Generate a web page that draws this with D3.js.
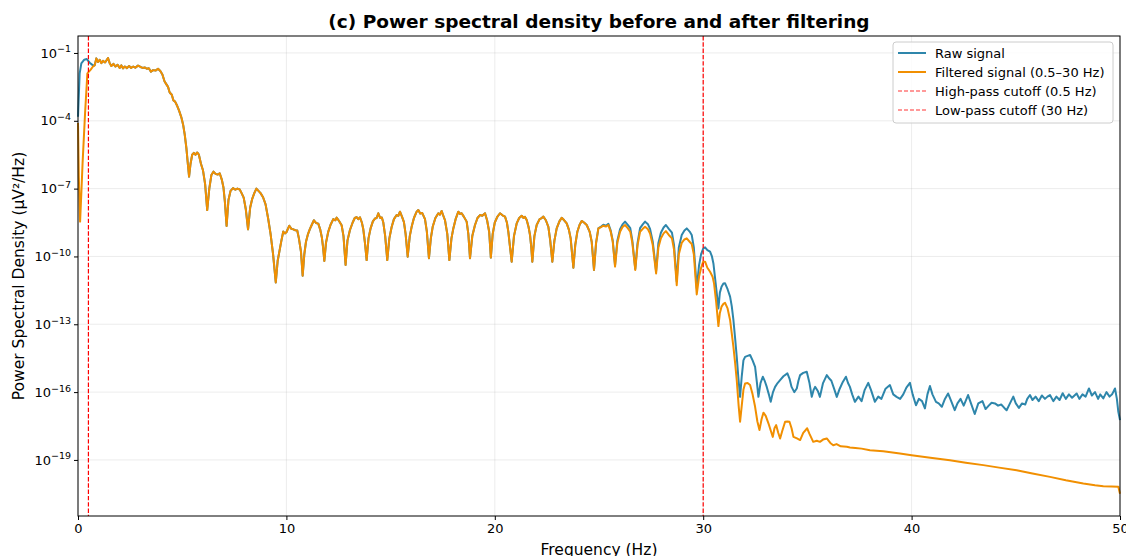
<!DOCTYPE html>
<html>
<head>
<meta charset="utf-8">
<script src="https://cdn.jsdelivr.net/npm/d3@7"></script>
<style>
  body { margin: 0; background: #fff; }
  text { font-family: "DejaVu Sans", sans-serif; fill: #000; }
</style>
</head>
<body>
<div id="chart"></div>
<script>
// values are [frequency (Hz), log10 of PSD]
var rawLowBand = [[0,-3.82],[0.08,-1.9],[0.16,-1.46],[0.3,-1.3],[0.42,-1.27],[0.56,-1.43],[0.72,-1.55]];
var filteredLowBand = [[0,-4.1],[0.04,-6.5],[0.1,-8.46],[0.16,-7.2],[0.22,-5.87],[0.34,-3.65],[0.45,-1.9],[0.6,-1.75],[0.72,-1.6]];

// both signals overlap here
var sharedBand = [[0.8,-1.55],[0.88,-1.24],[0.96,-1.4],[1.04,-1.3],[1.12,-1.45],[1.2,-1.35],[1.3,-1.42],[1.44,-1.22],[1.52,-1.45],[1.6,-1.58],
  [1.7,-1.48],[1.8,-1.6],[1.9,-1.52],[2.0,-1.66],[2.08,-1.55],[2.16,-1.68],[2.25,-1.6],[2.35,-1.67],[2.45,-1.58],[2.55,-1.66],[2.65,-1.6],
  [2.75,-1.65],[2.88,-1.56],[3.0,-1.62],[3.1,-1.66],[3.2,-1.64],[3.3,-1.7],[3.4,-1.68],[3.5,-1.83],[3.6,-1.76],[3.72,-1.78],[3.84,-1.7],
  [3.95,-1.8],[4.05,-1.95],[4.15,-2.25],[4.25,-2.4],[4.32,-2.5],[4.4,-2.75],[4.5,-2.85],[4.58,-3.1],[4.66,-3.15],[4.74,-3.3],[4.85,-3.55],
  [4.96,-3.85],[5.05,-4.2],[5.12,-4.6],[5.2,-5.2],[5.28,-6.0],[5.33,-6.47],[5.4,-5.9],[5.48,-5.5],[5.56,-5.42],[5.64,-5.5],[5.72,-5.4],
  [5.8,-5.5],[5.9,-5.9],[6.0,-6.2],[6.1,-6.8],[6.2,-7.95],[6.3,-7.0],[6.4,-6.4],[6.5,-6.25],[6.6,-6.35],[6.7,-6.38],[6.8,-6.32],[6.9,-6.6],
  [6.98,-6.95],[7.05,-7.6],[7.13,-8.65],[7.22,-7.5],[7.32,-7.1],[7.44,-6.98],[7.55,-7.05],[7.65,-7.0],[7.76,-7.04],[7.85,-7.2],[7.95,-7.4],
  [8.05,-7.9],[8.16,-8.8],[8.26,-7.85],[8.36,-7.45],[8.46,-7.2],[8.56,-7.0],[8.66,-7.1],[8.76,-7.2],[8.88,-7.38],[9.0,-7.7],[9.12,-8.3],
  [9.24,-9.0],[9.36,-9.9],[9.49,-11.15],[9.58,-10.2],[9.68,-9.7],[9.76,-9.3],[9.85,-8.9],[9.93,-8.98],[10.0,-8.93],[10.14,-8.64],[10.24,-8.78],
  [10.33,-8.8],[10.43,-8.84],[10.52,-8.85],[10.6,-9.2],[10.7,-9.8],[10.78,-10.85],[10.86,-9.9],[10.94,-9.35],[11.04,-9.0],[11.13,-8.78],
  [11.22,-8.6],[11.32,-8.4],[11.42,-8.52],[11.53,-8.55],[11.62,-8.8],[11.7,-9.15],[11.76,-9.6],[11.82,-10.2],[11.9,-9.4],[12.01,-8.9],
  [12.12,-8.6],[12.25,-8.35],[12.35,-8.4],[12.41,-8.28],[12.52,-8.42],[12.65,-8.62],[12.74,-9.1],[12.84,-10.38],[12.93,-9.3],[13.05,-8.83],
  [13.18,-8.5],[13.28,-8.3],[13.37,-8.26],[13.45,-8.35],[13.53,-8.27],[13.62,-8.5],[13.69,-8.8],[13.77,-9.4],[13.85,-10.16],[13.94,-9.2],
  [14.04,-8.76],[14.15,-8.45],[14.25,-8.32],[14.33,-8.3],[14.41,-8.09],[14.5,-8.3],[14.58,-8.28],[14.65,-8.5],[14.74,-9.1],[14.84,-10.16],
  [14.94,-9.2],[15.05,-8.7],[15.16,-8.35],[15.29,-8.17],[15.37,-8.2],[15.45,-8.02],[15.55,-8.25],[15.64,-8.48],[15.72,-9.0],[15.82,-10.01],
  [15.92,-9.1],[16.01,-8.69],[16.12,-8.3],[16.25,-8.02],[16.33,-7.95],[16.42,-8.1],[16.52,-8.08],[16.65,-8.35],[16.74,-8.9],[16.84,-10.08],
  [16.93,-9.2],[17.02,-8.69],[17.15,-8.3],[17.29,-8.09],[17.37,-8.15],[17.45,-7.99],[17.53,-8.2],[17.61,-8.4],[17.72,-9.0],[17.82,-10.16],
  [17.92,-9.2],[18.01,-8.76],[18.12,-8.35],[18.25,-8.02],[18.33,-8.12],[18.41,-8.09],[18.52,-8.25],[18.65,-8.46],[18.73,-9.0],[18.81,-10.08],
  [18.92,-9.1],[19.05,-8.61],[19.17,-8.3],[19.29,-8.17],[19.4,-8.2],[19.53,-8.09],[19.63,-8.4],[19.73,-8.91],[19.81,-10.05],[19.9,-9.0],
  [20.0,-8.5],[20.12,-8.25],[20.25,-8.09],[20.37,-8.18],[20.49,-8.24],[20.58,-8.5],[20.65,-8.91],[20.72,-9.5],[20.81,-10.23],[20.92,-9.1],
  [21.05,-8.54],[21.17,-8.3],[21.29,-8.2],[21.38,-8.3],[21.45,-8.25],[21.53,-8.39],[21.62,-8.7],[21.69,-9.05],[21.75,-9.6],[21.8,-10.23],
  [21.9,-9.1],[22.01,-8.61],[22.15,-8.35],[22.25,-8.3],[22.33,-8.24],[22.45,-8.4],[22.57,-8.69],[22.66,-9.3],[22.76,-10.23],[22.86,-9.3],
  [22.97,-8.76],[23.1,-8.45],[23.21,-8.29],[23.33,-8.4],[23.45,-8.54],[23.55,-8.8],[23.64,-9.2],[23.77,-10.5],[23.86,-9.5],[23.96,-8.91],
  [24.07,-8.6],[24.17,-8.43],[24.28,-8.5],[24.41,-8.61],[24.55,-8.9],[24.65,-9.35],[24.76,-10.6],[24.86,-9.4],[24.97,-8.76]];

var rawHighBand = [[25.1,-8.68],[25.21,-8.6],[25.33,-8.64],[25.45,-8.56],[25.56,-8.85],[25.66,-9.3],[25.77,-10.4],[25.88,-9.3],[26.01,-8.8],
  [26.13,-8.58],[26.25,-8.46],[26.38,-8.6],[26.5,-8.75],[26.6,-9.3],[26.74,-10.55],[26.85,-9.4],[26.97,-8.75],[27.1,-8.58],[27.21,-8.46],
  [27.35,-8.58],[27.45,-8.78],[27.58,-9.35],[27.74,-10.65],[27.85,-9.4],[27.97,-8.95],[28.1,-8.72],[28.21,-8.61],[28.35,-8.78],[28.5,-8.95],
  [28.6,-9.5],[28.73,-11.1],[28.83,-9.6],[28.97,-9.05],[29.1,-8.85],[29.21,-8.76],[29.35,-8.9],[29.45,-9.05],[29.55,-9.6],[29.69,-11.4],
  [29.8,-10.4],[29.9,-9.9],[30.0,-9.65],[30.09,-9.6],[30.2,-9.72],[30.33,-9.79],[30.42,-10.0],[30.49,-10.31],[30.6,-11.2],[30.73,-12.3],
  [30.8,-11.6],[30.88,-11.34],[30.97,-11.2],[31.05,-11.19],[31.17,-11.45],[31.29,-11.78],[31.37,-12.2],[31.45,-12.81],[31.53,-13.6],
  [31.61,-14.44],[31.69,-15.4],[31.77,-16.21],[31.85,-15.3],[31.93,-14.6],[32.01,-14.44],[32.13,-14.4],[32.25,-14.36],[32.37,-14.6],
  [32.49,-14.88],[32.58,-15.6],[32.65,-16.21],[32.75,-15.6],[32.86,-15.32],[32.95,-15.5],[33.05,-15.77],[33.15,-16.1],[33.24,-16.43],
  [33.35,-16.0],[33.45,-15.77],[33.57,-15.6],[33.69,-15.47],[33.85,-15.3],[34.04,-15.17],[34.14,-15.4],[34.24,-15.77],[34.37,-16.0],
  [34.49,-15.84],[34.57,-15.5],[34.65,-15.25],[34.8,-15.15],[34.97,-15.1],[35.1,-15.6],[35.21,-16.21],[35.3,-15.9],[35.37,-15.77],
  [35.5,-15.95],[35.6,-16.21],[35.75,-15.6],[35.93,-15.25],[36.05,-15.4],[36.15,-15.5],[36.3,-15.9],[36.41,-16.21],[36.55,-15.85],
  [36.7,-15.55],[36.85,-15.32],[36.95,-15.6],[37.04,-15.77],[37.15,-16.1],[37.28,-16.43],[37.45,-16.2],[37.6,-16.4],[37.75,-15.9],
  [37.92,-15.59],[38.05,-15.9],[38.24,-16.43],[38.4,-16.2],[38.55,-16.3],[38.75,-15.85],[38.96,-15.69],[39.12,-16.1],[39.28,-16.21],
  [39.45,-16.3],[39.6,-16.1],[39.75,-15.8],[39.92,-15.59],[40.05,-16.1],[40.21,-16.58],[40.35,-16.3],[40.5,-16.4],[40.64,-16.72],
  [40.76,-16.1],[40.88,-15.73],[41.0,-16.1],[41.17,-16.43],[41.3,-16.5],[41.45,-16.65],[41.6,-16.3],[41.75,-16.06],[41.9,-16.4],
  [42.07,-16.8],[42.2,-16.5],[42.35,-16.3],[42.5,-16.6],[42.71,-16.13],[42.85,-16.5],[43.03,-16.97],[43.2,-16.5],[43.4,-16.4],
  [43.55,-16.75],[43.7,-16.6],[43.84,-16.47],[44.0,-16.5],[44.15,-16.6],[44.3,-16.55],[44.45,-16.7],[44.56,-16.8],[44.72,-16.5],
  [44.88,-16.2],[45.0,-16.5],[45.15,-16.7],[45.3,-16.5],[45.45,-16.55],[45.55,-16.3],[45.68,-16.13],[45.8,-16.35],[45.95,-16.2],
  [46.1,-16.4],[46.25,-16.15],[46.4,-16.3],[46.52,-16.2],[46.64,-16.13],[46.8,-16.4],[46.95,-16.2],[47.1,-16.35],[47.25,-16.05],
  [47.4,-16.3],[47.55,-16.1],[47.7,-16.25],[47.92,-16.06],[48.05,-16.3],[48.2,-16.1],[48.35,-16.2],[48.51,-15.84],[48.65,-16.15],
  [48.8,-16.0],[48.95,-16.3],[49.05,-16.1],[49.2,-16.28],[49.35,-16.0],[49.5,-16.2],[49.62,-16.1],[49.76,-15.84],[49.85,-16.3],
  [49.92,-16.87],[50.0,-17.24]];

var filteredHighBand = [[25.1,-8.7],[25.21,-8.64],[25.33,-8.68],[25.45,-8.61],[25.56,-8.9],[25.66,-9.35],[25.77,-10.45],[25.88,-9.4],
  [26.01,-8.91],[26.13,-8.7],[26.25,-8.61],[26.38,-8.75],[26.5,-8.91],[26.6,-9.4],[26.74,-10.6],[26.85,-9.5],[26.97,-8.91],[27.1,-8.78],
  [27.21,-8.69],[27.35,-8.8],[27.45,-8.99],[27.58,-9.5],[27.74,-10.75],[27.85,-9.6],[27.97,-9.2],[28.1,-8.98],[28.21,-8.88],[28.35,-9.05],
  [28.5,-9.2],[28.6,-9.7],[28.73,-11.27],[28.83,-9.9],[28.97,-9.4],[29.1,-9.25],[29.21,-9.2],[29.35,-9.35],[29.45,-9.45],[29.55,-9.9],
  [29.69,-11.68],[29.8,-10.9],[29.9,-10.5],[30.0,-10.23],[30.09,-10.23],[30.2,-10.5],[30.33,-10.68],[30.45,-10.9],[30.52,-11.19],
  [30.62,-12.0],[30.73,-13.08],[30.8,-12.5],[30.88,-12.22],[30.97,-12.1],[31.05,-12.05],[31.17,-12.3],[31.29,-12.81],[31.37,-13.4],
  [31.45,-14.0],[31.53,-14.7],[31.61,-15.47],[31.7,-16.6],[31.77,-17.31],[31.85,-16.6],[31.93,-15.9],[32.01,-15.62],[32.13,-15.6],
  [32.25,-15.69],[32.37,-16.1],[32.49,-16.65],[32.6,-17.3],[32.7,-17.68],[32.8,-17.2],[32.89,-16.91],[33.0,-17.05],[33.13,-17.38],
  [33.24,-17.7],[33.34,-17.98],[33.42,-17.6],[33.5,-17.46],[33.6,-17.8],[33.69,-18.05],[33.8,-17.7],[33.93,-17.31],[34.04,-17.3],
  [34.14,-17.31],[34.24,-17.6],[34.33,-17.98],[34.5,-18.05],[34.65,-18.12],[34.8,-17.8],[34.99,-17.6],[35.1,-17.85],[35.28,-18.2],
  [35.45,-18.15],[35.6,-18.2],[35.75,-18.1],[35.93,-18.05],[36.1,-18.25],[36.24,-18.35],[36.4,-18.3],[36.6,-18.4],[36.89,-18.42],
  [37.04,-18.45],[37.3,-18.47],[37.6,-18.5],[38.0,-18.57],[38.64,-18.62],[39.44,-18.72],[40.0,-18.79],[40.9,-18.9],[41.84,-19.01],
  [42.6,-19.12],[43.44,-19.23],[44.2,-19.34],[45.04,-19.46],[45.8,-19.6],[46.64,-19.75],[47.4,-19.9],[48.24,-20.04],[48.8,-20.12],
  [49.2,-20.16],[49.6,-20.18],[49.92,-20.19],[50.0,-20.5]];

var cutoffs = [0.5, 30];
var xTicks = [0, 10, 20, 30, 40, 50];
var yTickExps = [-1, -4, -7, -10, -13, -16, -19];
var legendLabels = ["Raw signal", "Filtered signal (0.5\u201330 Hz)", "High-pass cutoff (0.5 Hz)", "Low-pass cutoff (30 Hz)"];

var rawSeries = rawLowBand.concat(sharedBand, rawHighBand);
var filteredSeries = filteredLowBand.concat(sharedBand, filteredHighBand);

var width = 1126, height = 556;
var margin = {top: 36, right: 6, bottom: 40, left: 78};

var svg = d3.select("#chart").append("svg")
  .attr("width", width)
  .attr("height", height);

var x = d3.scaleLinear()
  .domain([0, 50])
  .range([margin.left, width - margin.right]);

var y = d3.scaleLog()
  .domain([Math.pow(10, -21.48), Math.pow(10, -0.25)])
  .range([height - margin.bottom, margin.top]);

// grid
svg.append("g").selectAll("line").data(xTicks).enter().append("line")
  .attr("x1", function(d) { return x(d); })
  .attr("x2", function(d) { return x(d); })
  .attr("y1", margin.top)
  .attr("y2", height - margin.bottom)
  .attr("stroke", "#b0b0b0")
  .attr("stroke-opacity", 0.3)
  .attr("stroke-width", 0.8);

svg.append("g").selectAll("line").data(yTickExps).enter().append("line")
  .attr("x1", margin.left)
  .attr("x2", width - margin.right)
  .attr("y1", function(d) { return y(Math.pow(10, d)); })
  .attr("y2", function(d) { return y(Math.pow(10, d)); })
  .attr("stroke", "#b0b0b0")
  .attr("stroke-opacity", 0.3)
  .attr("stroke-width", 0.8);

var line = d3.line()
  .x(function(d) { return x(d[0]); })
  .y(function(d) { return y(Math.pow(10, d[1])); });

var plot = svg.append("g");

plot.append("path")
  .datum(rawSeries)
  .attr("d", line)
  .attr("fill", "none")
  .attr("stroke", "#2E86AB")
  .attr("stroke-width", 2)
  .attr("stroke-linejoin", "round");

plot.append("path")
  .datum(filteredSeries)
  .attr("d", line)
  .attr("fill", "none")
  .attr("stroke", "#F18F01")
  .attr("stroke-width", 2)
  .attr("stroke-linejoin", "round");

// cutoff lines
plot.selectAll(".cutoff").data(cutoffs).enter().append("line")
  .attr("class", "cutoff")
  .attr("x1", function(d) { return x(d); })
  .attr("x2", function(d) { return x(d); })
  .attr("y1", margin.top)
  .attr("y2", height - margin.bottom)
  .attr("stroke", "red")
  .attr("stroke-width", 1.2)
  .attr("stroke-dasharray", "4.4,1.9");

// axes
var xAxis = d3.axisBottom(x).tickValues(xTicks).tickSize(4).tickPadding(4)
  .tickFormat(d3.format("d"));
var gx = svg.append("g")
  .attr("transform", "translate(0," + (height - margin.bottom) + ")")
  .call(xAxis);
gx.select(".domain").remove();
gx.selectAll("text").style("font-size", "13px").style("font-family", "DejaVu Sans");

var yAxis = d3.axisLeft(y).tickValues(yTickExps.map(function(e) { return Math.pow(10, e); }))
  .tickSize(4).tickPadding(4).tickFormat("");
var gy = svg.append("g")
  .attr("transform", "translate(" + margin.left + ",0)")
  .call(yAxis);
gy.select(".domain").remove();

gy.selectAll(".tick").each(function(d, i) {
  var t = d3.select(this).append("text")
    .attr("x", -7)
    .attr("dy", "0.32em")
    .attr("text-anchor", "end")
    .style("font-size", "13px")
    .style("fill", "#000");
  t.append("tspan").text("10");
  t.append("tspan")
    .attr("dy", "-0.55em")
    .style("font-size", "9.5px")
    .text("\u2212" + Math.abs(yTickExps[i]));
});

// frame
svg.append("rect")
  .attr("x", margin.left)
  .attr("y", margin.top)
  .attr("width", width - margin.left - margin.right)
  .attr("height", height - margin.top - margin.bottom)
  .attr("fill", "none")
  .attr("stroke", "#000")
  .attr("stroke-width", 1);

// title and labels
svg.append("text")
  .attr("x", (margin.left + width - margin.right) / 2)
  .attr("y", 28)
  .attr("text-anchor", "middle")
  .style("font-size", "18.5px")
  .style("font-weight", "bold")
  .text("(c) Power spectral density before and after filtering");

svg.append("text")
  .attr("x", (margin.left + width - margin.right) / 2)
  .attr("y", 555)
  .attr("text-anchor", "middle")
  .style("font-size", "15.5px")
  .text("Frequency (Hz)");

svg.append("text")
  .attr("transform", "translate(24," + ((margin.top + height - margin.bottom) / 2) + ") rotate(-90)")
  .attr("text-anchor", "middle")
  .style("font-size", "15.5px")
  .text("Power Spectral Density (\u00b5V\u00b2/Hz)");

// legend
var legend = svg.append("g").attr("transform", "translate(893,42)");
legend.append("rect")
  .attr("width", 220)
  .attr("height", 81)
  .attr("rx", 3)
  .attr("fill", "#fff")
  .attr("fill-opacity", 0.8)
  .attr("stroke", "#ccc");

var legendStyles = [
  {color: "#2E86AB", dash: null},
  {color: "#F18F01", dash: null},
  {color: "red", dash: "4,2"},
  {color: "red", dash: "4,2"}
];

var items = legend.selectAll(".item").data(legendLabels).enter().append("g")
  .attr("class", "item")
  .attr("transform", function(d, i) { return "translate(0," + (11 + i * 19) + ")"; });

items.append("line")
  .attr("x1", 5).attr("x2", 33)
  .attr("stroke", function(d, i) { return legendStyles[i].color; })
  .attr("stroke-opacity", function(d, i) { return i > 1 ? 0.8 : 1; })
  .attr("stroke-width", function(d, i) { return i > 1 ? 1.2 : 2; })
  .attr("stroke-dasharray", function(d, i) { return legendStyles[i].dash; });

items.append("text")
  .attr("x", 42)
  .attr("dy", "0.35em")
  .style("font-size", "13px")
  .text(function(d) { return d; });
</script>
</body>
</html>
